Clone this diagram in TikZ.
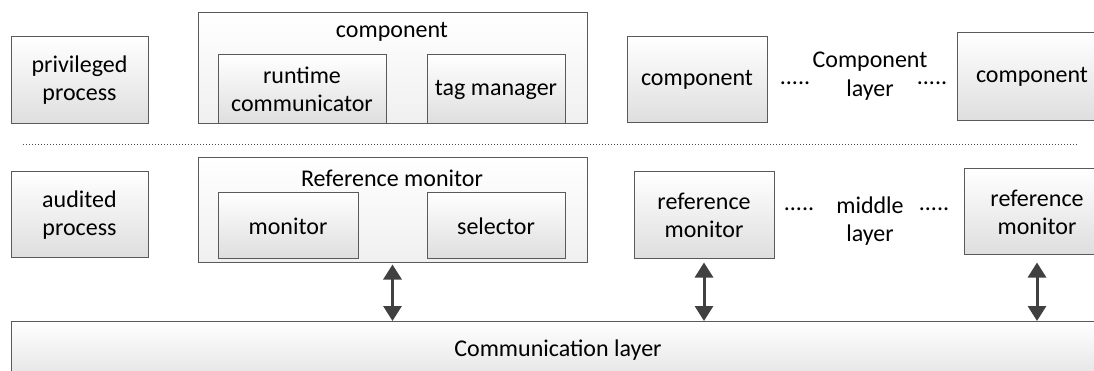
\documentclass[tikz,border=0pt]{standalone}
\usepackage{fontspec}
\setmainfont{Carlito}
\usetikzlibrary{arrows.meta}
\definecolor{edge}{HTML}{5A5A5A}
\definecolor{arrowgray}{HTML}{404040}
\tikzset{
  box/.style={draw=edge, line width=1pt, top color=white, bottom color=black!13,
    align=center, inner sep=0pt, text=black},
  holder/.style={draw=edge, line width=1pt, top color=white, bottom color=black!6,
    inner sep=0pt},
  lbl/.style={align=center, inner sep=0pt, text=black},
  link/.style={arrowgray, line width=3pt,
    {Triangle[width=18pt,length=15pt]}-{Triangle[width=18pt,length=15pt]}},
  sep/.style={draw=black!70, line width=1pt, dotted}
}
\begin{document}
\begin{tikzpicture}[x=1pt, y=-1pt, font=\fontsize{24}{28}\selectfont]
\useasboundingbox (0,0) rectangle (1094,371);
\clip (0,0) rectangle (1094,371);

% component layer
\node[box, minimum width=137pt, minimum height=87pt] (priv) at (79.5,80.5) {privileged\\process};
\node[holder, minimum width=389pt, minimum height=111pt] (comp) at (392.5,68.5) {};
\node[lbl] (compl) at (392,32) {component};
\node[box, minimum width=168pt, minimum height=69pt] (rtc) at (302,89.5) {runtime\\communicator};
\node[box, minimum width=138pt, minimum height=69pt] (tag) at (496,89.5) {tag manager};
\node[box, minimum width=140pt, minimum height=86pt] (compb) at (697,80) {component};
\node[box, minimum width=150pt, minimum height=88pt] (compc) at (1032,77) {component};
\node[lbl, anchor=base] (clayer) at (870,68) {Component};
\node[lbl, anchor=base] (clayer2) at (870,97) {layer};
\node[lbl] (cd1) at (795,83) {.....};
\node[lbl] (cd2) at (932,83) {.....};

% layer separator
\coordinate (sepl) at (23,145);
\coordinate (sepr) at (1078,145);
\draw[sep] (sepl) -- (sepr);

% middle layer
\node[box, minimum width=137pt, minimum height=86pt] (aud) at (79.5,215) {audited\\process};
\node[holder, minimum width=389pt, minimum height=104pt] (rmo) at (392.5,210) {};
\node[lbl] (rmol) at (392,178) {Reference monitor};
\node[box, minimum width=140pt, minimum height=66pt] (mon) at (288,226) {monitor};
\node[box, minimum width=138pt, minimum height=66pt] (sel) at (496,226) {selector};
\node[box, minimum width=140pt, minimum height=87pt] (rmb) at (704,215.5) {reference\\monitor};
\node[box, minimum width=146pt, minimum height=86pt] (rmc) at (1037,212) {reference\\monitor};
\node[lbl] (mlayer) at (870,221) {middle\\layer};
\node[lbl] (md1) at (799,209) {.....};
\node[lbl] (md2) at (934,209) {.....};

% communication layer
\node[box, minimum width=1100pt, minimum height=70pt, anchor=north west] (comm) at (11,321) {};
\node[lbl] (comml) at (558,350) {Communication layer};

% links to the communication layer
\draw[link, shorten <=2pt] (rmo.south) -- (rmo.south |- comm.north);
\draw[link, shorten <=3pt] (rmb.south) -- (rmb.south |- comm.north);
\draw[link, shorten <=7pt] (rmc.south) -- (rmc.south |- comm.north);
\end{tikzpicture}
\end{document}
